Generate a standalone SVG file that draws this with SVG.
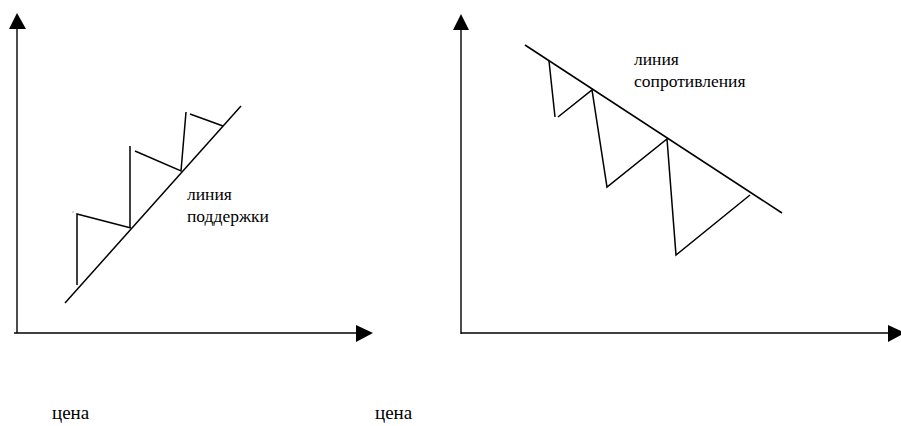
<svg xmlns="http://www.w3.org/2000/svg" width="901" height="426" viewBox="0 0 901 426">
<defs>
<style>
.ax{stroke:#000;stroke-width:1.4;fill:none}
.ln{stroke:#000;stroke-width:1.5;fill:none;stroke-linecap:butt}
.ah{fill:#000}
.lbl{font-family:'Liberation Serif','Times New Roman',serif;font-size:17.5px;fill:#000}
.prc{font-family:'Liberation Serif','Times New Roman',serif;font-size:19px;fill:#000}
</style>
</defs>
<rect width="901" height="426" fill="#fff"/>
<g id="chart-support">
<g id="axes-left">
<line class="ax" x1="17" y1="28" x2="17" y2="333"/>
<polygon class="ah" points="17,13 9,29 26,29"/>
<line class="ax" x1="14" y1="333" x2="357" y2="333"/>
<polygon class="ah" points="373,333 356,325 356,342"/>
</g>
<g id="support-line">
<line class="ln" x1="65" y1="303" x2="241" y2="106"/>
</g>
<g id="zigzag-left">
<polyline class="ln" points="77,285 77,214 131,228"/>
<polyline class="ln" points="130,228 130,146"/>
<polyline class="ln" points="135,151 181,171 186,112"/>
<polyline class="ln" points="190,114 223,126"/>
<circle cx="73" cy="212" r="0.6" fill="#555"/>
</g>
<g id="label-support">
<text class="lbl" x="187" y="200">линия</text>
<text class="lbl" x="187" y="222">поддержки</text>
</g>
</g>
<g id="chart-resistance">
<g id="axes-right">
<line class="ax" x1="461" y1="29" x2="461" y2="334"/>
<polygon class="ah" points="461,14 453,30 469,30"/>
<line class="ax" x1="461" y1="333" x2="889" y2="333"/>
<polygon class="ah" points="905,333 888,325 888,342"/>
</g>
<g id="resistance-line">
<line class="ln" x1="525" y1="45" x2="782" y2="213"/>
</g>
<g id="zigzag-right">
<polyline class="ln" points="549,61 555,117"/>
<polyline class="ln" points="558,117 592,90 607,187 667,139 676,255 750,195"/>
</g>
<g id="label-resistance">
<text class="lbl" x="634" y="65">линия</text>
<text class="lbl" x="634" y="87">сопротивления</text>
</g>
</g>
<g id="price-labels">
<text class="prc" x="52" y="419">цена</text>
<text class="prc" x="375" y="419">цена</text>
</g>
</svg>
